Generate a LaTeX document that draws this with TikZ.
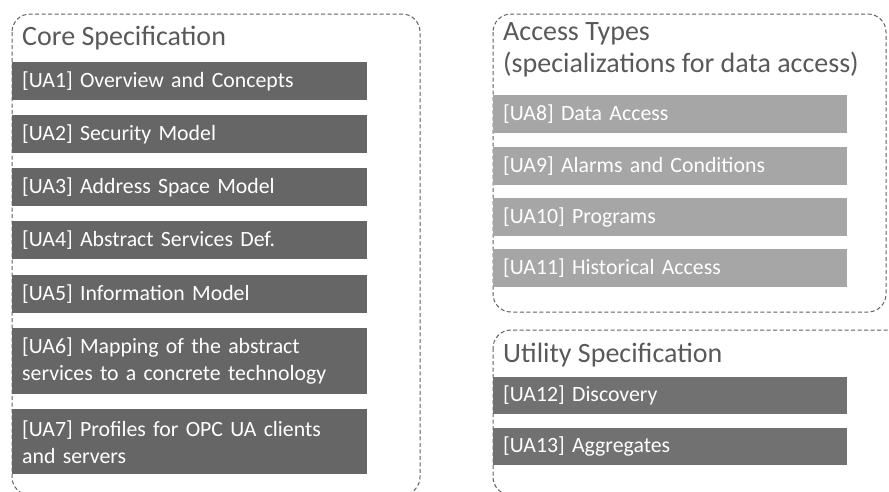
\documentclass[tikz,border=0pt]{standalone}
\usepackage{fontspec}
\setmainfont{Carlito}
\definecolor{darkbox}{HTML}{666666}
\definecolor{utilbox}{HTML}{717171}
\definecolor{lightbox}{HTML}{A6A6A6}
\definecolor{dashgray}{HTML}{606060}
\definecolor{titlegray}{HTML}{595959}
\begin{document}
\begin{tikzpicture}[x=1pt,y=-1pt,
  group/.style={draw=dashgray, line width=1pt, dash pattern=on 4pt off 2.5pt, rounded corners=18pt},
  item/.style={anchor=north west, rectangle, inner xsep=10pt, inner ysep=0pt, align=left,
     text=white, font=\fontsize{21.8}{27}\selectfont},
  coreitem/.style={item, fill=darkbox, minimum width=355pt, text width=335pt},
  accitem/.style={item, fill=lightbox, minimum width=354pt, text width=334pt},
  utilitem/.style={item, fill=utilbox, minimum width=354pt, text width=334pt},
  grouptitle/.style={anchor=base west, inner sep=0pt, text=titlegray, align=left, font=\fontsize{28}{34}\selectfont}
]
\useasboundingbox (0,0) rectangle (889,491);
% group frames
\draw[group] (12,14) rectangle (420,495);
\draw[group] (493,14) rectangle (886,312);
\draw[group] (493,330) rectangle (910,495);
% titles
\node[grouptitle] (tcore) at (22,45) {Core Specification};
\node[grouptitle] (tacc) at (503,40) {Access Types};
\node[grouptitle] (tacc2) at (503,72) {(specializations for data access)};
\node[grouptitle] (tutil) at (503,362) {Utility Specification};
% core items
\node[coreitem, minimum height=38pt] (ua1) at (12,62) {[UA1] Overview and Concepts};
\node[coreitem, minimum height=38pt] (ua2) at (12,115) {[UA2] Security Model};
\node[coreitem, minimum height=38pt] (ua3) at (12,168) {[UA3] Address Space Model};
\node[coreitem, minimum height=38pt] (ua4) at (12,221) {[UA4] Abstract Services Def.};
\node[coreitem, minimum height=38pt] (ua5) at (12,275) {[UA5] Information Model};
\node[coreitem, minimum height=66pt] (ua6) at (12,328) {[UA6] Mapping of the abstract\\services to a concrete technology};
\node[coreitem, minimum height=65pt] (ua7) at (12,409) {[UA7] Profiles for OPC UA clients\\and servers};
% access items
\node[accitem, minimum height=38pt] (ua8) at (493,95) {[UA8] Data Access};
\node[accitem, minimum height=38pt] (ua9) at (493,147) {[UA9] Alarms and Conditions};
\node[accitem, minimum height=38pt] (ua10) at (493,198) {[UA10] Programs};
\node[accitem, minimum height=38pt] (ua11) at (493,249) {[UA11] Historical Access};
% utility items
\node[utilitem, minimum height=37pt] (ua12) at (493,377) {[UA12] Discovery};
\node[utilitem, minimum height=37pt] (ua13) at (493,428) {[UA13] Aggregates};
\end{tikzpicture}
\end{document}
